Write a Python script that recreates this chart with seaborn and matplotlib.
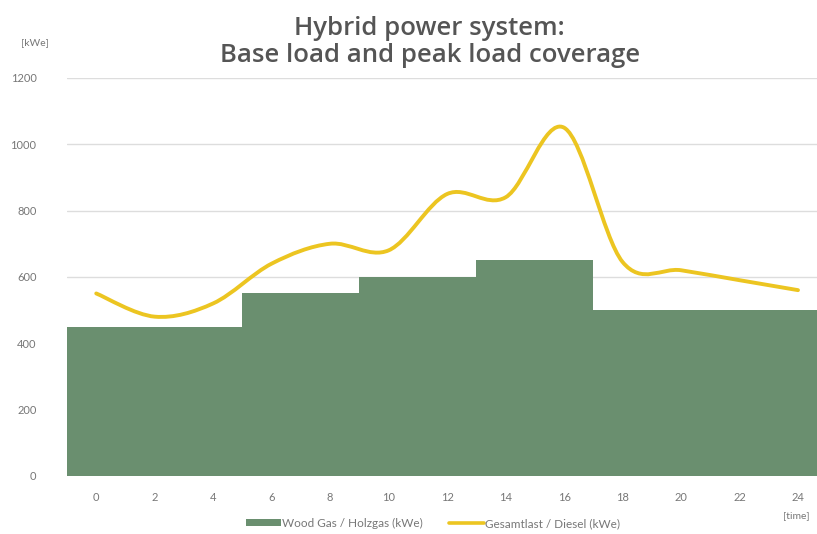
import numpy as np
import pandas as pd
import seaborn as sns
import matplotlib
matplotlib.use("Agg")
import matplotlib.pyplot as plt
from matplotlib.path import Path
from matplotlib.patches import PathPatch, Patch
from matplotlib.lines import Line2D

# base load (wood gas) blocks: edges in hours and level in kWe
wood_edges = [-1, 5, 9, 13, 17, 25]
wood_levels = [450, 550, 600, 650, 500]

# total load (diesel covers the rest)
load_hours = [0, 2, 4, 6, 8, 10, 12, 14, 16, 18, 20, 22, 24]
load_kwe = [550, 480, 520, 640, 700, 680, 850, 840, 1050, 645, 620, 590, 560]

y_ticks = [0, 200, 400, 600, 800, 1000, 1200]
x_ticks = list(range(0, 25, 2))

GREEN = "#6a8f6f"
YELLOW = "#ecc521"
GREY = "#555555"

sns.set_theme(style="white")
plt.rcParams["font.family"] = ["Lato", "DejaVu Sans"]

fig = plt.figure(figsize=(8.17, 5.34), dpi=100)
ax = fig.add_axes([0.082, 0.109, 0.918, 0.745])

# step area for the wood gas base load
wood = pd.DataFrame({
    "mid": [(a + b) / 2 for a, b in zip(wood_edges[:-1], wood_edges[1:])],
    "kwe": wood_levels,
})
sns.histplot(
    data=wood, x="mid", weights="kwe", bins=wood_edges,
    element="step", fill=True, color=GREEN, alpha=1, linewidth=0, ax=ax,
)

# smooth curve through the load points (Excel style spline)
pts = np.column_stack([load_hours, load_kwe]).astype(float)
ext = np.vstack([pts[0], pts, pts[-1]])
verts = [tuple(pts[0])]
codes = [Path.MOVETO]
for i in range(1, len(ext) - 2):
    p0, p1, p2, p3 = ext[i - 1], ext[i], ext[i + 1], ext[i + 2]
    c1 = p1 + (p2 - p0) / 6
    c2 = p2 - (p3 - p1) / 6
    verts += [tuple(c1), tuple(c2), tuple(p2)]
    codes += [Path.CURVE4] * 3
ax.add_patch(PathPatch(Path(verts, codes), facecolor="none", edgecolor=YELLOW,
                       lw=2.8, capstyle="round", zorder=3))

ax.set_xlim(-1, 24.65)
ax.set_ylim(0, 1200)
ax.set_yticks(y_ticks)
ax.set_xticks(x_ticks)
ax.set_xticklabels([str(t) for t in x_ticks])
ax.yaxis.grid(True, color="#dddddd", linewidth=1)
ax.set_axisbelow(True)
for s in ax.spines.values():
    s.set_visible(False)
ax.tick_params(axis="both", length=0, labelsize=8, labelcolor="#777777")
ax.tick_params(axis="x", pad=12)
ax.tick_params(axis="y", pad=22)
ax.set_xlabel("")
ax.set_ylabel("")

fig.text(0.526, 0.921, "Hybrid power system:\nBase load and peak load coverage",
         ha="center", va="center", fontsize=18.5, fontweight="semibold",
         family=["Open Sans", "DejaVu Sans"], color=GREY, linespacing=1.1)
fig.text(0.043, 0.92, "[kWe]", fontsize=7.5, color="#777777", ha="center", va="center")
fig.text(0.975, 0.035, "[time]", fontsize=7.5, color="#777777", ha="center", va="center")

handles = [
    Patch(facecolor=GREEN, edgecolor="none"),
    Line2D([0], [0], color=YELLOW, lw=2.6),
]
fig.legend(handles, ["Wood Gas / Holzgas (kWe)", "Gesamtlast / Diesel (kWe)"],
           loc="center", bbox_to_anchor=(0.53, 0.02), ncol=2, frameon=False,
           fontsize=8.5, labelcolor="#777777", handlelength=3, handleheight=0.6,
           columnspacing=2.2, handletextpad=0.1)

fig.savefig("out.png", dpi=100)
